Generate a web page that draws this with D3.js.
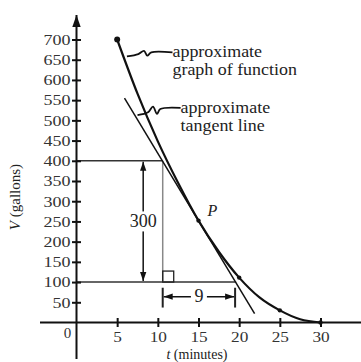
<!DOCTYPE html>
<html>
<head>
<script src="https://d3js.org/d3.v7.min.js"></script>
<style>
  body { margin: 0; background: #fff; }
  svg { display: block; }
</style>
</head>
<body>
<div class="graph"></div>
<script>
  /* data */
  const xTicks = [5, 10, 15, 20, 25, 30];
  const yTicks = [50, 100, 150, 200, 250, 300, 350, 400, 450, 500, 550, 600, 650, 700];
  const times = [5, 7.5, 10, 12.5, 15, 17.5, 20, 22.5, 25, 27.5, 30];
  const volumes = [700, 566, 448, 345, 252, 175, 111, 62, 30, 8, 0];
  const dotTimes = [15, 20, 25, 30];
  const tangentT = [5.9, 21.9];
  const tangentV = [555, 22];
  const P = { t: 15, v: 252 };
  const leg = { t1: 10.6, t2: 19.5, v1: 400, v2: 100 };
  const riseArrowT = 8.2;
  const runArrowV = 64;

  const width = 361, height = 362;
  const serif = '"Liberation Serif", "Times New Roman", Tinos, "DejaVu Serif", serif';

  const x = d3.scaleLinear().domain([0, 30]).range([76.5, 320.5]);
  const y = d3.scaleLinear().domain([0, 700]).range([322.5, 39.5]);

  // the scanned type is a little wider than Liberation Serif
  function stretch(sel, k) {
    sel.each(function () {
      const w = this.getComputedTextLength();
      d3.select(this).attr('textLength', w * k).attr('lengthAdjust', 'spacingAndGlyphs');
    });
  }

  const svg = d3.select('.graph')
    .append('svg')
    .attr('width', width)
    .attr('height', height)
    .attr('font-family', serif);

  const defs = svg.append('defs');
  defs.append('marker')
    .attr('id', 'arr')
    .attr('viewBox', '0 0 10 10')
    .attr('refX', 10).attr('refY', 5)
    .attr('markerWidth', 6).attr('markerHeight', 6)
    .attr('orient', 'auto-start-reverse')
    .append('path')
    .attr('d', 'M0,1.5 L10,5 L0,8.5 Z')
    .attr('fill', '#111');

  /* reference lines */
  const g = svg.append('g');
  g.append('line')
    .attr('x1', x(0)).attr('x2', x(leg.t1))
    .attr('y1', y(leg.v1)).attr('y2', y(leg.v1))
    .attr('stroke', '#333').attr('stroke-width', 1.5);
  g.append('line')
    .attr('x1', x(0)).attr('x2', x(leg.t2) + 1)
    .attr('y1', y(leg.v2)).attr('y2', y(leg.v2))
    .attr('stroke', '#333').attr('stroke-width', 1.5);
  g.append('line')
    .attr('x1', x(leg.t1)).attr('x2', x(leg.t1))
    .attr('y1', y(leg.v1)).attr('y2', y(leg.v2))
    .attr('stroke', '#888').attr('stroke-width', 1.5);

  // right angle mark
  g.append('rect')
    .attr('x', x(leg.t1)).attr('y', y(leg.v2) - 11)
    .attr('width', 11).attr('height', 11)
    .attr('fill', 'none').attr('stroke', '#222').attr('stroke-width', 1.3);

  // rise arrow (300)
  g.append('line')
    .attr('x1', x(riseArrowT)).attr('x2', x(riseArrowT))
    .attr('y1', y(leg.v1) + 1).attr('y2', y(leg.v2) - 1)
    .attr('stroke', '#111').attr('stroke-width', 1.5)
    .attr('marker-start', 'url(#arr)').attr('marker-end', 'url(#arr)');
  g.append('rect')
    .attr('x', x(riseArrowT) - 15).attr('y', y(250) - 10)
    .attr('width', 30).attr('height', 20).attr('fill', '#fff');
  g.append('text')
    .attr('x', x(riseArrowT)).attr('y', y(250) + 6)
    .attr('text-anchor', 'middle')
    .attr('font-size', 18)
    .attr('fill', '#222')
    .text('300');

  // run arrow (9)
  [leg.t1, leg.t2].forEach(t => {
    g.append('line')
      .attr('x1', x(t)).attr('x2', x(t))
      .attr('y1', y(runArrowV + 22)).attr('y2', y(runArrowV - 27))
      .attr('stroke', '#222').attr('stroke-width', 2);
  });
  g.append('line')
    .attr('x1', x(leg.t1) + 1).attr('x2', x(leg.t2) - 1)
    .attr('y1', y(runArrowV)).attr('y2', y(runArrowV))
    .attr('stroke', '#111').attr('stroke-width', 1.5)
    .attr('marker-start', 'url(#arr)').attr('marker-end', 'url(#arr)');
  g.append('rect')
    .attr('x', x((leg.t1 + leg.t2) / 2) - 8).attr('y', y(runArrowV) - 9)
    .attr('width', 16).attr('height', 18).attr('fill', '#fff');
  g.append('text')
    .attr('x', x((leg.t1 + leg.t2) / 2)).attr('y', y(runArrowV) + 5)
    .attr('text-anchor', 'middle')
    .attr('font-size', 18)
    .attr('fill', '#222')
    .text('9');

  /* axes */
  const xAxis = svg.append('g')
    .attr('transform', `translate(0, ${y(0)})`)
    .call(d3.axisBottom(x).tickValues(xTicks).tickSize(0).tickPadding(9))
    .attr('font-family', serif);
  xAxis.select('.domain').remove();
  xAxis.selectAll('.tick line').attr('y1', -4.5).attr('y2', 4.5)
    .attr('stroke', '#111').attr('stroke-width', 2);
  xAxis.selectAll('.tick text').attr('font-size', 15).attr('fill', '#333')
    .call(stretch, 1.15);
  svg.append('line')
    .attr('x1', 40).attr('x2', width)
    .attr('y1', y(0)).attr('y2', y(0))
    .attr('stroke', '#111').attr('stroke-width', 2.2);

  const yAxis = svg.append('g')
    .attr('transform', `translate(${x(0)}, 0)`)
    .call(d3.axisLeft(y).tickValues(yTicks).tickSize(0).tickPadding(6))
    .attr('font-family', serif);
  yAxis.select('.domain').remove();
  yAxis.selectAll('.tick line').attr('x1', -4.5).attr('x2', 4.5)
    .attr('stroke', '#111').attr('stroke-width', 2);
  yAxis.selectAll('.tick text').attr('font-size', 15).attr('fill', '#333')
    .call(stretch, 1.2);
  svg.append('line')
    .attr('x1', x(0)).attr('x2', x(0))
    .attr('y1', 359).attr('y2', 15)
    .attr('stroke', '#111').attr('stroke-width', 2)
    .attr('marker-end', 'url(#arr)');

  svg.append('text')
    .attr('x', x(0) - 9).attr('y', y(0) + 15)
    .attr('font-size', 15)
    .attr('fill', '#333')
    .attr('text-anchor', 'middle')
    .text('0');

  svg.append('text')
    .attr('transform', `translate(20, 197) rotate(-90)`)
    .attr('text-anchor', 'middle')
    .attr('font-size', 15)
    .attr('fill', '#222')
    .html('<tspan font-style="italic">V</tspan> (gallons)');

  svg.append('text')
    .attr('x', 197).attr('y', 359)
    .attr('text-anchor', 'middle')
    .attr('font-size', 14)
    .attr('fill', '#222')
    .html('<tspan font-style="italic">t</tspan> (minutes)');

  /* tangent and curve */
  svg.append('line')
    .attr('x1', x(tangentT[0])).attr('y1', y(tangentV[0]))
    .attr('x2', x(tangentT[1])).attr('y2', y(tangentV[1]))
    .attr('stroke', '#111').attr('stroke-width', 1.5);

  const line = d3.line()
    .x((d, i) => x(times[i]))
    .y(d => y(d))
    .curve(d3.curveMonotoneX);

  svg.append('path')
    .datum(volumes)
    .attr('d', line)
    .attr('fill', 'none')
    .attr('stroke', '#111')
    .attr('stroke-width', 2.2);

  svg.append('circle')
    .attr('cx', x(times[0])).attr('cy', y(volumes[0]))
    .attr('r', 3).attr('fill', '#111');
  svg.selectAll('.dot')
    .data(dotTimes)
    .enter()
    .append('circle')
    .attr('class', 'dot')
    .attr('cx', d => x(d))
    .attr('cy', d => y(volumes[times.indexOf(d)]))
    .attr('r', 2.2)
    .attr('fill', '#111');

  svg.append('text')
    .attr('x', x(P.t) + 9).attr('y', y(P.v) - 5)
    .attr('font-size', 16)
    .attr('font-style', 'italic')
    .attr('fill', '#222')
    .text('P');

  /* leader squiggles and notes */
  const leader1T = [6.2, 7.6, 8.3, 8.7, 9.2, 11.8];
  const leader1V = [658, 664, 672, 660, 668, 668];
  const leader2T = [7.5, 8.8, 9.4, 9.9, 10.3, 12.8];
  const leader2V = [513, 520, 534, 516, 528, 531];

  const leader = d3.line().x(d => x(d[0])).y(d => y(d[1])).curve(d3.curveCatmullRom);
  [[leader1T, leader1V], [leader2T, leader2V]].forEach(([ts, vs]) => {
    svg.append('path')
      .attr('d', leader(ts.map((t, i) => [t, vs[i]])))
      .attr('fill', 'none')
      .attr('stroke', '#111')
      .attr('stroke-width', 1.8);
  });

  const note = (tx, ty, lines) => {
    lines.forEach((s, i) => svg.append('text')
      .attr('x', tx).attr('y', ty + i * 18)
      .attr('font-size', 16)
      .attr('fill', '#222')
      .text(s)
      .call(stretch, 1.12));
  };
  note(x(11.8), y(668) + 5, ['approximate', 'graph of function']);
  note(x(12.8), y(531) + 5, ['approximate', 'tangent line']);
</script>
</body>
</html>
